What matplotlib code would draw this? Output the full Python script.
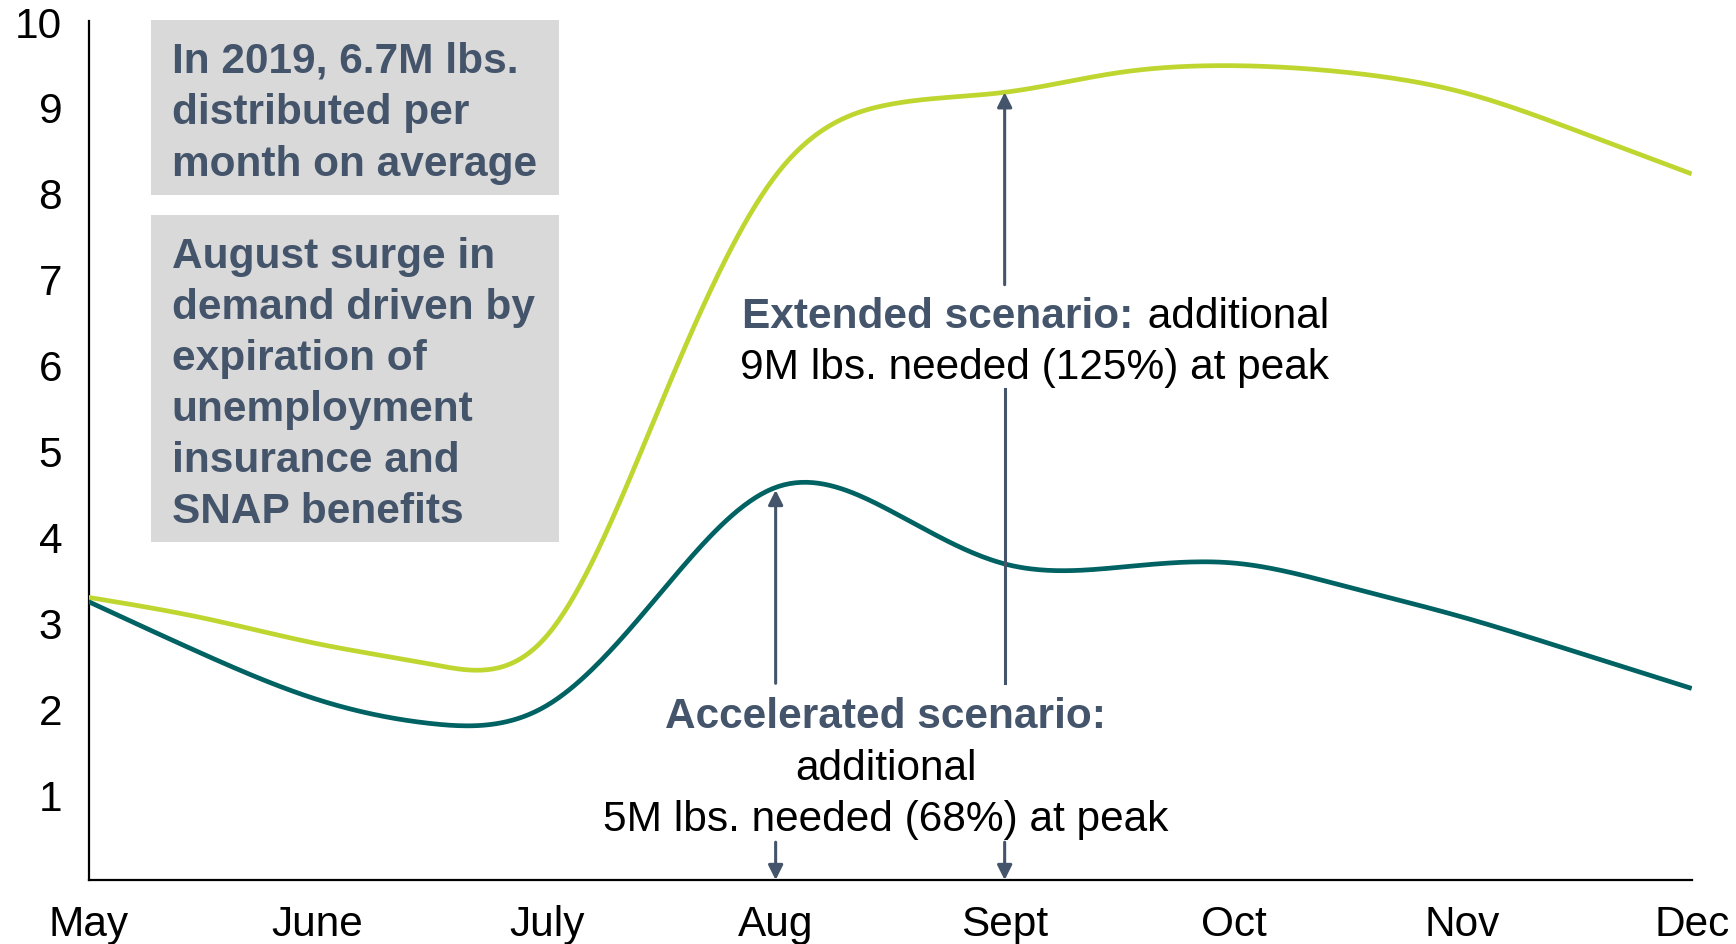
import numpy as np
import matplotlib
matplotlib.use("Agg")
import matplotlib.pyplot as plt
from matplotlib.patches import Rectangle

plt.rcParams['font.family'] = ['Liberation Sans', 'DejaVu Sans']

# ---- data ----
months = ["May", "June", "July", "Aug", "Sept", "Oct", "Nov", "Dec"]
# half-month sample positions (0 = May, 7 = Dec)
x_pos = [0, 0.5, 1, 1.5, 2, 2.5, 3, 3.5, 4, 4.5, 5, 5.5, 6, 6.5, 7]
extended = [3.29, 3.05, 2.75, 2.51, 2.84, 5.55, 8.20, 9.03, 9.17, 9.40, 9.48, 9.40, 9.17, 8.72, 8.22]
accelerated = [3.24, 2.63, 2.10, 1.82, 2.03, 3.35, 4.57, 4.30, 3.68, 3.64, 3.69, 3.41, 3.06, 2.65, 2.23]
y_ticks = [1, 2, 3, 4, 5, 6, 7, 8, 9, 10]

GREEN = "#BFD630"
TEAL = "#006262"
SLATE = "#44546A"
BOXGRAY = "#D9D9D9"


def smooth(xs, ys, n=40):
    """Natural cubic spline rendering of a smoothed line."""
    xs = np.asarray(xs, float)
    ys = np.asarray(ys, float)
    m = len(xs)
    h = np.diff(xs)
    A = np.zeros((m, m))
    b = np.zeros(m)
    A[0, 0] = 1
    A[-1, -1] = 1
    for i in range(1, m - 1):
        A[i, i - 1] = h[i - 1]
        A[i, i] = 2 * (h[i - 1] + h[i])
        A[i, i + 1] = h[i]
        b[i] = 6 * ((ys[i + 1] - ys[i]) / h[i] - (ys[i] - ys[i - 1]) / h[i - 1])
    M = np.linalg.solve(A, b)
    outx, outy = [], []
    for i in range(m - 1):
        t = np.linspace(xs[i], xs[i + 1], n, endpoint=False)
        a = xs[i + 1] - t
        c = t - xs[i]
        y = (M[i] * a ** 3 / (6 * h[i]) + M[i + 1] * c ** 3 / (6 * h[i])
             + (ys[i] / h[i] - M[i] * h[i] / 6) * a + (ys[i + 1] / h[i] - M[i + 1] * h[i] / 6) * c)
        outx.extend(t)
        outy.extend(y)
    outx.append(xs[-1])
    outy.append(ys[-1])
    return np.array(outx), np.array(outy)


fig = plt.figure(figsize=(17.36, 9.45), dpi=100)
ax = fig.add_axes([88.6 / 1736, 64 / 945, (1691.7 - 88.6) / 1736, (881 - 22) / 945])

sx, sy = smooth(x_pos, extended)
ax.plot(sx, sy, color=GREEN, lw=3.4, solid_capstyle='butt', zorder=3)
sx, sy = smooth(x_pos, accelerated)
ax.plot(sx, sy, color=TEAL, lw=3.4, solid_capstyle='butt', zorder=3)

ax.set_xlim(0, 7)
ax.set_ylim(0, 10)
ax.set_xticks(range(len(months)))
ax.set_xticklabels(months)
ax.set_yticks(y_ticks)
ax.tick_params(axis='both', length=0, labelsize=30.5, colors='black')
ax.tick_params(axis='y', pad=19)
ax.tick_params(axis='x', pad=17)
for s in ("top", "right"):
    ax.spines[s].set_visible(False)
for s in ("left", "bottom"):
    ax.spines[s].set_linewidth(1.6)
    ax.spines[s].set_color("black")

# ---- grey info boxes ----
ax.add_patch(Rectangle((0.271, 7.977), 1.782, 2.03, facecolor=BOXGRAY, edgecolor='none', zorder=1, clip_on=False))
ax.add_patch(Rectangle((0.271, 3.93), 1.782, 3.815, facecolor=BOXGRAY, edgecolor='none', zorder=1, clip_on=False))
ax.text(0.362, 8.94, "In 2019, 6.7M lbs.\ndistributed per\nmonth on average", fontsize=30.5, fontweight='bold',
        color=SLATE, ha='left', va='center', linespacing=1.38, zorder=2)
ax.text(0.362, 5.78, "August surge in\ndemand driven by\nexpiration of\nunemployment\ninsurance and\nSNAP benefits",
        fontsize=30.5, fontweight='bold', color=SLATE, ha='left', va='center', linespacing=1.36, zorder=2)

# ---- arrows ----
i_aug = x_pos.index(3)
i_sep = x_pos.index(4)
aprops = dict(arrowstyle='-|>', color=SLATE, lw=2.2, mutation_scale=22, shrinkA=0, shrinkB=0)
# Accelerated: Aug
ax.annotate("", xy=(3, accelerated[i_aug] - 0.03), xytext=(3, 2.29), arrowprops=aprops, zorder=4)
ax.annotate("", xy=(3, 0.0), xytext=(3, 0.44), arrowprops=aprops, zorder=4)
# Extended: Sept
ax.annotate("", xy=(4, extended[i_sep]), xytext=(4, 6.93), arrowprops=aprops, zorder=4)
ax.plot([4, 4], [2.29, 5.72], color=SLATE, lw=2.2, zorder=4)
ax.annotate("", xy=(4, 0.0), xytext=(4, 0.44), arrowprops=aprops, zorder=4)

# ---- scenario labels ----
ax.text(4.56, 6.56, "Extended scenario:", fontsize=30.5, fontweight='bold', color=SLATE,
        ha='right', va='center', zorder=5)
ax.text(4.575, 6.56, " additional", fontsize=30.5, color='black', ha='left', va='center', zorder=5)
ax.text(4.13, 5.97, "9M lbs. needed (125%) at peak", fontsize=30.5, color='black', ha='center', va='center', zorder=5)

ax.text(3.48, 1.905, "Accelerated scenario:", fontsize=30.5, fontweight='bold', color=SLATE,
        ha='center', va='center', zorder=5)
ax.text(3.48, 1.305, "additional", fontsize=30.5, color='black', ha='center', va='center', zorder=5)
ax.text(3.48, 0.715, "5M lbs. needed (68%) at peak", fontsize=30.5, color='black', ha='center', va='center', zorder=5)

fig.savefig("out.png", dpi=100)
